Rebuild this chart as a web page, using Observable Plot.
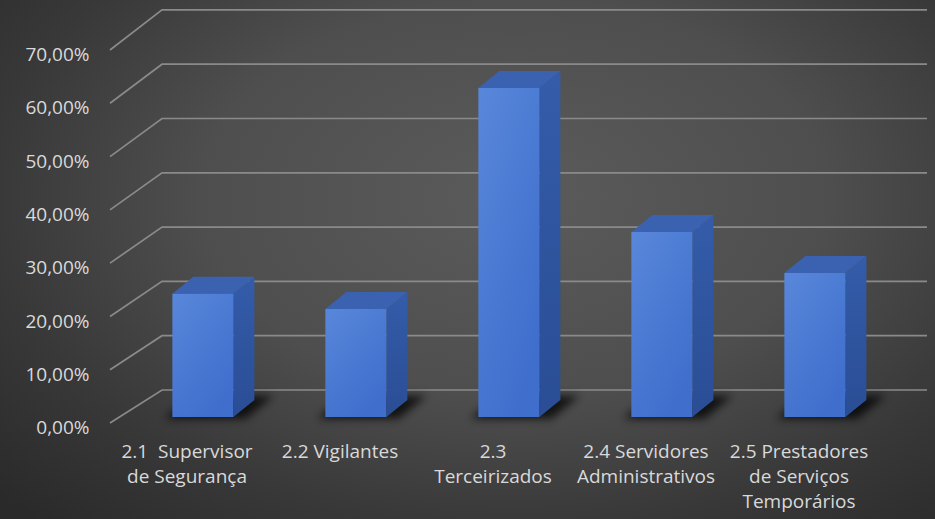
<!DOCTYPE html>
<html>
<head>
<meta charset="utf-8">
<script src="https://cdn.jsdelivr.net/npm/d3@7"></script>
<script src="https://cdn.jsdelivr.net/npm/@observablehq/plot@0.6"></script>
<style>
  html, body { margin: 0; padding: 0; }
  body {
    width: 935px; height: 519px; overflow: hidden;
    background: radial-gradient(ellipse 75% 85% at 55% 38%, #5b5b5b 0%, #4e4e4e 45%, #383838 75%, #2a2a2a 100%);
  }
  svg { display: block; }
</style>
</head>
<body>
<div id="chart"></div>
<script>
// ---- data ----
const categories = ["2.1", "2.2", "2.3", "2.4", "2.5"];
const categoryLabels = [
  "2.1  Supervisor\nde Segurança",
  "2.2 Vigilantes",
  "2.3\nTerceirizados",
  "2.4 Servidores\nAdministrativos",
  "2.5 Prestadores\nde Serviços\nTemporários"
];
const values = [0.2308, 0.2019, 0.6154, 0.3462, 0.2692];
const yTicks = [0, 0.1, 0.2, 0.3, 0.4, 0.5, 0.6, 0.7];

const data = categories.map((c, i) => ({cat: c, label: categoryLabels[i], value: values[i]}));

const fmt = v => (v * 100).toFixed(2).replace(".", ",") + "%";

// 3D projection parameters (depth offsets)
const DX = 52, DY = 33, K = 0.019;
const T0 = 0.18;
const BAR_DX = 21, BAR_DY = 17;
const HALF = 30.5, XOFF = 7;

function scene(index, scales, vals, dims) {
  const {x, y} = scales;
  const Y0 = y(0);
  const proj = (px, v, t) => [px + DX * t, Y0 - DY * t - (Y0 - y(v)) * (1 + K * t)];
  const projBar = (px, v, s) => {
    const [bx, by] = proj(px, v, T0);
    return [bx + BAR_DX * s, by - BAR_DY * s];
  };
  const pts = a => a.map(p => p.join(",")).join(" ");
  const g = d3.create("svg:g");

  const defs = g.append("defs");
  const fg = defs.append("linearGradient").attr("id", "frontGrad").attr("x1", 0).attr("x2", 0.6).attr("y1", 0).attr("y2", 1);
  fg.append("stop").attr("offset", 0).attr("stop-color", "#5887da");
  fg.append("stop").attr("offset", 1).attr("stop-color", "#3f6ecd");
  const sg = defs.append("linearGradient").attr("id", "sideGrad").attr("x1", 0).attr("x2", 0).attr("y1", 0).attr("y2", 1);
  sg.append("stop").attr("offset", 0).attr("stop-color", "#345ca9");
  sg.append("stop").attr("offset", 1).attr("stop-color", "#2a4d95");
  const blur = defs.append("filter").attr("id", "shadowBlur").attr("x", "-50%").attr("y", "-50%").attr("width", "200%").attr("height", "200%");
  blur.append("feGaussianBlur").attr("stdDeviation", 4);

  const x0 = dims.marginLeft, x1 = dims.width - dims.marginRight;
  // gridlines: side wall diagonals + back wall horizontals
  for (const v of yTicks) {
    const a = proj(x0, v, 0), b = proj(x0, v, 1), c = proj(x1, v, 1);
    g.append("polyline").attr("points", pts([a, b, c]))
      .attr("fill", "none").attr("stroke", "#8a8a8a").attr("stroke-width", 1.7);
  }

  const bw = x.bandwidth ? x.bandwidth() : (x(categories[1]) - x(categories[0]));
  for (const i of d3.range(categories.length)) {
    const v = values[i];
    const cx = x(categories[i]) + bw / 2 + XOFF;
    const L = cx - HALF, R = cx + HALF;
    // floor shadow
    g.append("polygon")
      .attr("points", pts([projBar(L - 6, 0, -0.1), projBar(R + 14, 0, -0.1), projBar(R + 14, 0, 1.25), projBar(L - 6, 0, 1.25)]))
      .attr("fill", "#000").attr("opacity", 0.75).attr("filter", "url(#shadowBlur)");
    // side face
    g.append("polygon")
      .attr("points", pts([projBar(R, 0, 0), projBar(R, 0, 1), projBar(R, v, 1), projBar(R, v, 0)]))
      .attr("fill", "url(#sideGrad)");
    // top face
    g.append("polygon")
      .attr("points", pts([projBar(L, v, 0), projBar(R, v, 0), projBar(R, v, 1), projBar(L, v, 1)]))
      .attr("fill", "#3b62b0");
    // front face
    g.append("polygon")
      .attr("points", pts([projBar(L, 0, 0), projBar(R, 0, 0), projBar(R, v, 0), projBar(L, v, 0)]))
      .attr("fill", "url(#frontGrad)");
  }
  return g.node();
}

const chart = Plot.plot({
  width: 935,
  height: 519,
  marginLeft: 110,
  marginRight: 60,
  marginTop: 50,
  marginBottom: 96,
  style: {background: "transparent", fontFamily: "'Open Sans', sans-serif"},
  x: {type: "band", domain: categories, padding: 0, axis: null},
  y: {domain: [0, 0.7], axis: null},
  marks: [
    scene,
    Plot.axisY(yTicks, {
      anchor: "left", tickSize: 0, tickPadding: 21, dy: 4.5,
      tickFormat: fmt, fill: "#d9d9d9", fontSize: 19
    }),
    Plot.text(data, {
      x: "cat", text: "label", frameAnchor: "bottom", lineAnchor: "top",
      dy: 17, lineHeight: 1.32, fill: "#d9d9d9", fontSize: 19
    })
  ]
});
document.getElementById("chart").appendChild(chart);
</script>
</body>
</html>
